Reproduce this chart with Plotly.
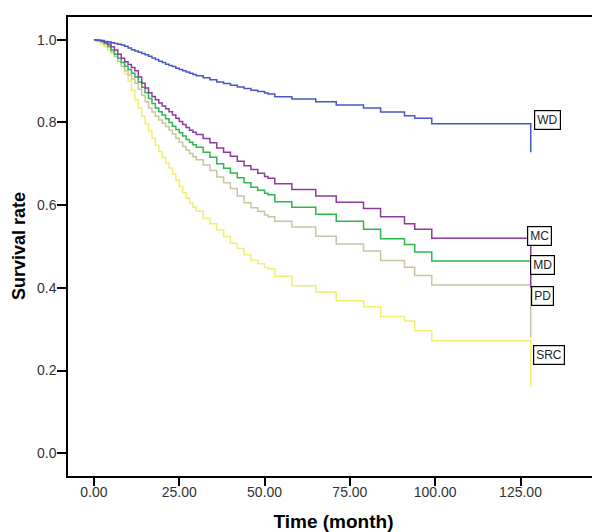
import plotly.graph_objects as go

time_month = [0, 1, 2, 3, 4, 5, 6, 7, 8, 9, 10, 11, 12, 13, 14, 15, 16, 17, 18, 19, 20,
              21, 22, 23, 24, 25, 26, 27, 28, 29, 30,
              32, 34, 36, 38, 40, 42, 44, 46, 48, 50,
              51, 53, 58, 65, 71, 79, 84, 91, 94, 99, 128, 128]

surv_wd = [1.0, 0.999, 0.998, 0.996, 0.995, 0.993, 0.991, 0.989, 0.987, 0.984, 0.980,
           0.976, 0.973, 0.970, 0.967, 0.964, 0.960, 0.956, 0.952, 0.948, 0.945,
           0.941, 0.938, 0.935, 0.931, 0.928, 0.925, 0.922, 0.919, 0.916, 0.913,
           0.908, 0.903, 0.898, 0.894, 0.890, 0.886, 0.882, 0.878, 0.875, 0.871,
           0.869, 0.862, 0.857, 0.850, 0.842, 0.835, 0.825, 0.816, 0.810, 0.797, 0.797, 0.728]
surv_mc = [1.0, 0.999, 0.997, 0.994, 0.990, 0.983, 0.975, 0.965, 0.955, 0.947, 0.940,
           0.933, 0.925, 0.910, 0.895, 0.883, 0.872, 0.863, 0.855, 0.847, 0.840,
           0.833, 0.826, 0.818, 0.810, 0.802, 0.795, 0.788, 0.781, 0.776, 0.771,
           0.761, 0.751, 0.738, 0.728, 0.718, 0.706, 0.695, 0.686, 0.677, 0.669,
           0.665, 0.652, 0.638, 0.622, 0.607, 0.592, 0.572, 0.555, 0.542, 0.520, 0.520, 0.400]
surv_md = [1.0, 0.998, 0.996, 0.991, 0.985, 0.975, 0.965, 0.955, 0.945, 0.936, 0.928,
           0.919, 0.910, 0.898, 0.885, 0.872, 0.858, 0.846, 0.835, 0.826, 0.818,
           0.809, 0.800, 0.791, 0.783, 0.775, 0.767, 0.759, 0.752, 0.746, 0.740,
           0.728, 0.716, 0.700, 0.689, 0.678, 0.666, 0.654, 0.643, 0.636, 0.629,
           0.625, 0.608, 0.595, 0.578, 0.561, 0.542, 0.519, 0.505, 0.487, 0.465, 0.465, 0.450]
surv_pd = [1.0, 0.998, 0.995, 0.989, 0.982, 0.971, 0.960, 0.948, 0.935, 0.925, 0.915,
           0.905, 0.895, 0.880, 0.865, 0.850, 0.835, 0.825, 0.815, 0.806, 0.798,
           0.790, 0.782, 0.772, 0.762, 0.752, 0.742, 0.733, 0.725, 0.717, 0.710,
           0.697, 0.684, 0.668, 0.654, 0.640, 0.622, 0.606, 0.594, 0.585, 0.576,
           0.572, 0.561, 0.547, 0.525, 0.506, 0.489, 0.466, 0.450, 0.430, 0.407, 0.407, 0.280]
surv_src = [1.0, 0.995, 0.990, 0.983, 0.975, 0.967, 0.958, 0.947, 0.935, 0.918, 0.900,
            0.878, 0.855, 0.835, 0.815, 0.797, 0.780, 0.762, 0.745, 0.730, 0.715,
            0.702, 0.690, 0.675, 0.660, 0.645, 0.630, 0.617, 0.605, 0.595, 0.585,
            0.568, 0.555, 0.540, 0.524, 0.508, 0.495, 0.480, 0.467, 0.458, 0.449,
            0.446, 0.428, 0.405, 0.390, 0.369, 0.354, 0.331, 0.320, 0.296, 0.272, 0.272, 0.160]

groups = ["SRC", "PD", "MD", "MC", "WD"]
series = {"WD": surv_wd, "MC": surv_mc, "MD": surv_md, "PD": surv_pd, "SRC": surv_src}
colors = {"WD": "#4459c4", "MC": "#8c3d9c", "MD": "#2fb64e", "PD": "#cbc59f", "SRC": "#f1ee72"}

label_t = {"WD": 133.0, "MC": 130.7, "MD": 131.3, "PD": 131.3, "SRC": 133.3}
label_s = {"WD": 0.805, "MC": 0.525, "MD": 0.455, "PD": 0.381, "SRC": 0.238}

x_ticks = [0, 25, 50, 75, 100, 125]
y_ticks = [0.0, 0.2, 0.4, 0.6, 0.8, 1.0]

fig = go.Figure()
for g in groups:
    fig.add_trace(go.Scatter(
        x=time_month, y=series[g], mode="lines", line_shape="hv",
        line=dict(color=colors[g], width=1.5), name=g, showlegend=False,
        hoverinfo="skip"))

for g in ["WD", "MC", "MD", "PD", "SRC"]:
    fig.add_annotation(x=label_t[g], y=label_s[g], text=g, showarrow=False,
                       font=dict(family="Arial, Liberation Sans", size=12, color="#222"),
                       bordercolor="black", borderwidth=1.2, borderpad=2, bgcolor="white")

# y-axis title placed as a rotated annotation, left of the tick labels
fig.add_annotation(xref="paper", yref="paper", x=-0.093, y=0.5, text="<b>Survival rate</b>",
                   textangle=-90, showarrow=False, xanchor="center", yanchor="middle",
                   font=dict(family="Arial, Liberation Sans", size=18, color="black"))

axis_font = dict(family="Arial, Liberation Sans", size=14, color="#333")
fig.update_layout(
    width=600, height=532,
    margin=dict(l=60, r=8, t=7, b=64),
    paper_bgcolor="white", plot_bgcolor="white",
    xaxis=dict(range=[-7.6, 148], tickvals=x_ticks, tickformat=".2f",
               ticks="outside", ticklen=8, tickwidth=1.5, tickcolor="black",
               ticklabelstandoff=-6,
               showline=True, linecolor="black", linewidth=1.5, mirror=True,
               showgrid=False, zeroline=False, tickfont=axis_font,
               title=dict(text="<b>Time (month)</b>", standoff=16,
                          font=dict(family="Arial, Liberation Sans", size=19, color="black"))),
    yaxis=dict(range=[-0.055, 1.055], tickvals=y_ticks, tickformat=".1f",
               ticks="outside", ticklen=9, tickwidth=1.5, tickcolor="black",
               ticklabelstandoff=-2,
               showline=True, linecolor="black", linewidth=1.5, mirror=True,
               showgrid=False, zeroline=False, tickfont=axis_font),
)

fig.write_html("out.html")
